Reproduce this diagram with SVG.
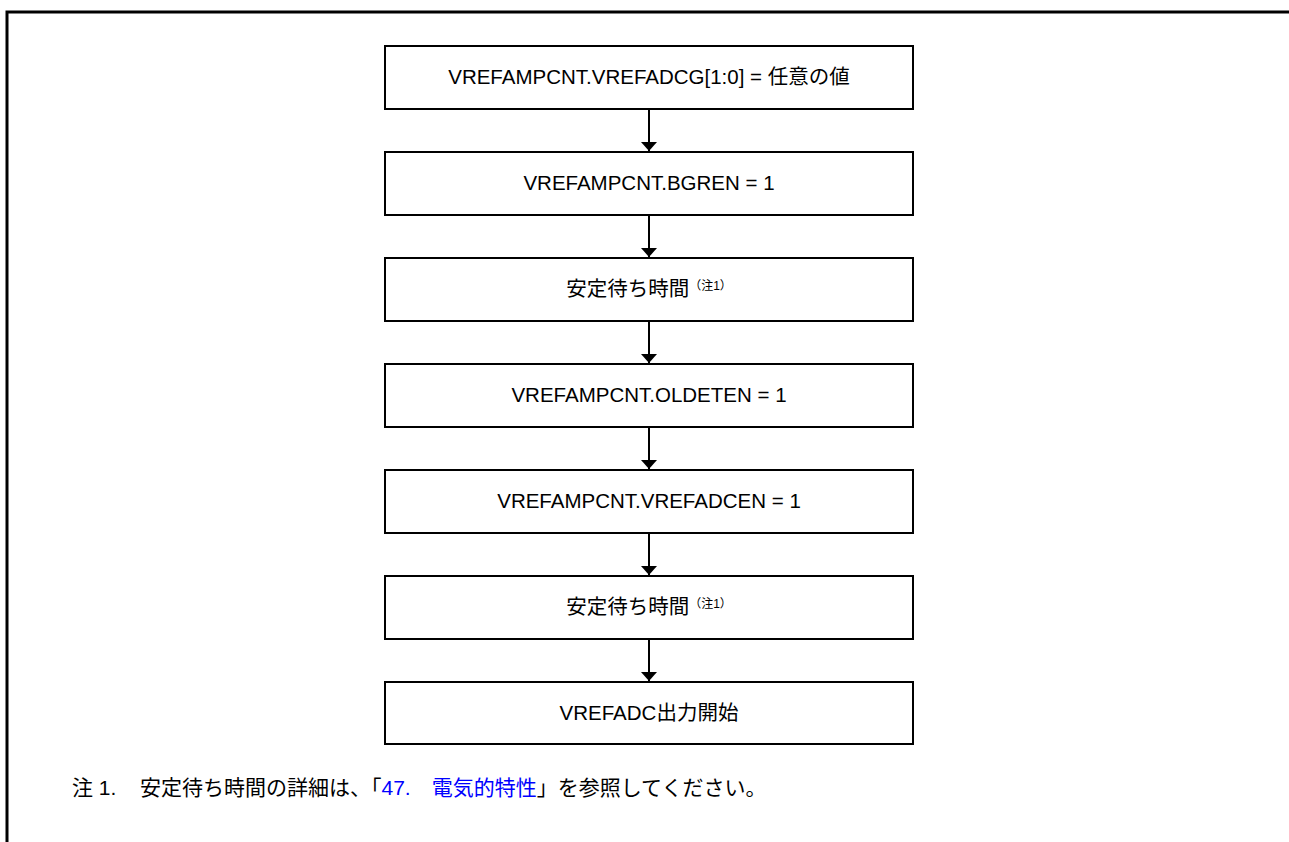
<svg xmlns="http://www.w3.org/2000/svg" width="1289" height="842" viewBox="0 0 1289 842">
<defs>
<style>
.box{fill:#fff;stroke:#000;stroke-width:2}
.t{font-family:"Liberation Sans","Noto Sans CJK JP",sans-serif;font-size:20.5px;fill:#000;text-anchor:middle}
.sup{font-size:12px}
.con{stroke:#000;stroke-width:2;fill:none}
.note{font-family:"Liberation Sans","Noto Sans CJK JP",sans-serif;font-size:21px;fill:#000}
.link{fill:#0000ff}
</style>
<marker id="ah" markerWidth="9" markerHeight="16" refX="9" refY="8" orient="auto" markerUnits="userSpaceOnUse" viewBox="0 0 9 16">
<path d="M0,0 L9,8 L0,16 Z" fill="#000"/>
</marker>
</defs>
<rect width="1289" height="842" fill="#fff"/>
<path d="M7,842 V12 H1289" fill="none" stroke="#000" stroke-width="3"/>
<g id="connectors">
<line class="con" x1="649" y1="109" x2="649" y2="151" marker-end="url(#ah)"/>
<line class="con" x1="649" y1="215" x2="649" y2="257" marker-end="url(#ah)"/>
<line class="con" x1="649" y1="321" x2="649" y2="363" marker-end="url(#ah)"/>
<line class="con" x1="649" y1="427" x2="649" y2="469" marker-end="url(#ah)"/>
<line class="con" x1="649" y1="533" x2="649" y2="575" marker-end="url(#ah)"/>
<line class="con" x1="649" y1="639" x2="649" y2="681" marker-end="url(#ah)"/>
</g>
<g id="n1"><rect class="box" x="385" y="46" width="528" height="63"/><text class="t" x="649" y="84">VREFAMPCNT.VREFADCG[1:0] = 任意の値</text></g>
<g id="n2"><rect class="box" x="385" y="152" width="528" height="63"/><text class="t" x="649" y="190">VREFAMPCNT.BGREN = 1</text></g>
<g id="n3"><rect class="box" x="385" y="258" width="528" height="63"/><text class="t" x="649" y="296">安定待ち時間<tspan class="sup" dy="-6">（注1）</tspan></text></g>
<g id="n4"><rect class="box" x="385" y="364" width="528" height="63"/><text class="t" x="649" y="402">VREFAMPCNT.OLDETEN = 1</text></g>
<g id="n5"><rect class="box" x="385" y="470" width="528" height="63"/><text class="t" x="649" y="508">VREFAMPCNT.VREFADCEN = 1</text></g>
<g id="n6"><rect class="box" x="385" y="576" width="528" height="63"/><text class="t" x="649" y="614">安定待ち時間<tspan class="sup" dy="-6">（注1）</tspan></text></g>
<g id="n7"><rect class="box" x="385" y="682" width="528" height="62"/><text class="t" x="649" y="720">VREFADC出力開始</text></g>
<g id="note">
<text class="note" x="72" y="795">注 1.</text>
<text class="note" x="140" y="795">安定待ち時間の詳細は、「<tspan class="link">47.　電気的特性</tspan>」を参照してください。</text>
</g>
</svg>
